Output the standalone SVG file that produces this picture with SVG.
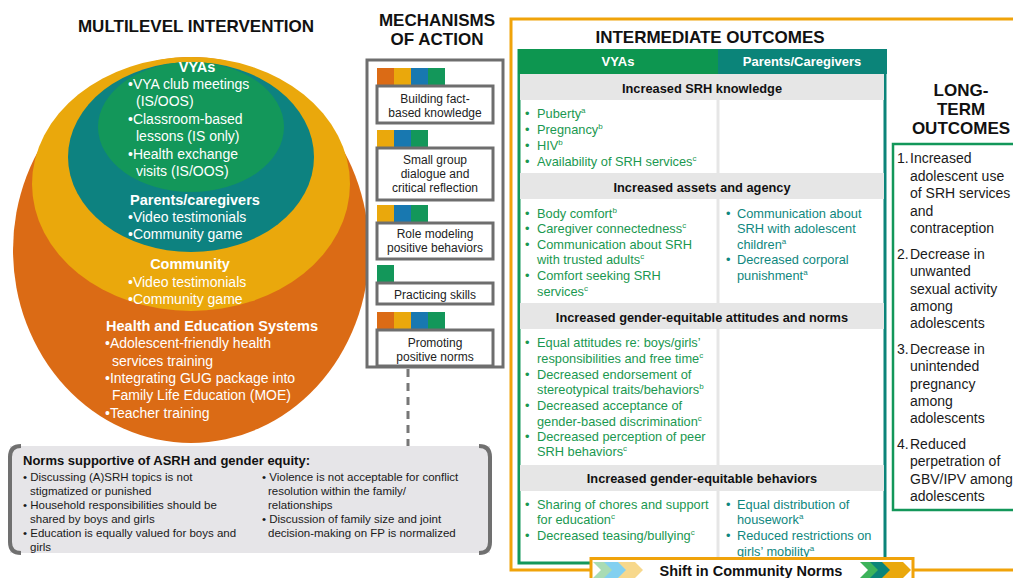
<svg xmlns="http://www.w3.org/2000/svg" width="1013" height="578" viewBox="0 0 1013 578">
<style>
text{font-family:"Liberation Sans",Arial,sans-serif}
.h{font-weight:bold;font-size:17px;fill:#111}
.cw{font-size:14px;fill:#fff}
.cwb{font-size:14.5px;font-weight:bold;fill:#fff}
.mech{font-size:12px;fill:#222;text-anchor:middle}
.mbox{fill:#fff;stroke:#6e6e6e;stroke-width:3}
.sec{font-size:12.8px;font-weight:bold;fill:#111;text-anchor:middle}
.band{fill:#e6e6e6}
.g{font-size:12.8px;fill:#1a9850}
.t{font-size:12.8px;fill:#0f877e}
.lt{font-size:14px;fill:#1a1a1a}
.nb{font-size:11.5px;fill:#1a1a1a}
.sup{font-size:8px}
.div{stroke:#e6e6e6;stroke-width:3}
</style>

<g id="multilevel">
<text class="h" x="196" y="32" text-anchor="middle">MULTILEVEL INTERVENTION</text>
<ellipse cx="191" cy="250" rx="178" ry="193" fill="#db6b15"/>
<ellipse cx="191" cy="184" rx="159" ry="127" fill="#eaa80c"/>
<ellipse cx="191" cy="157" rx="123" ry="95" fill="#0d8280"/>
<ellipse cx="191" cy="127" rx="93" ry="65" fill="#13975a"/>
<text class="cwb" x="197" y="72" text-anchor="middle">VYAs</text>
<text class="cw" x="128" y="89">•VYA club meetings</text>
<text class="cw" x="136" y="106">(IS/OOS)</text>
<text class="cw" x="128" y="124">•Classroom-based</text>
<text class="cw" x="136" y="141">lessons (IS only)</text>
<text class="cw" x="128" y="159">•Health exchange</text>
<text class="cw" x="136" y="176">visits (IS/OOS)</text>
<text class="cwb" x="195" y="205" text-anchor="middle">Parents/caregivers</text>
<text class="cw" x="128" y="222">•Video testimonials</text>
<text class="cw" x="128" y="239">•Community game</text>
<text class="cwb" x="190" y="269" text-anchor="middle">Community</text>
<text class="cw" x="128" y="287">•Video testimonials</text>
<text class="cw" x="128" y="304">•Community game</text>
<text class="cwb" x="212" y="331" text-anchor="middle">Health and Education Systems</text>
<text class="cw" x="105" y="348">•Adolescent-friendly health</text>
<text class="cw" x="112" y="366">services training</text>
<text class="cw" x="105" y="383">•Integrating GUG package into</text>
<text class="cw" x="112" y="400">Family Life Education (MOE)</text>
<text class="cw" x="105" y="418">•Teacher training</text>
</g>

<g id="connectors">
<line x1="408" y1="369" x2="408" y2="446" stroke="#777" stroke-width="3" stroke-dasharray="8,6"/>
</g>

<g id="mechanisms">
<text class="h" x="437" y="26" text-anchor="middle">MECHANISMS</text>
<text class="h" x="437" y="45" text-anchor="middle">OF ACTION</text>
<rect class="mbox" x="367" y="60" width="136" height="307"/>
<g id="mech1">
<rect x="377" y="68" width="17" height="17" fill="#db6b15"/>
<rect x="394" y="68" width="17" height="17" fill="#eaa80c"/>
<rect x="411" y="68" width="17" height="17" fill="#1878b0"/>
<rect x="428" y="68" width="17" height="17" fill="#13975a"/>
<rect class="mbox" x="377" y="86" width="116" height="37"/>
<text class="mech" x="435" y="103">Building fact-</text>
<text class="mech" x="435" y="117">based knowledge</text>
</g>
<g id="mech2">
<rect x="377" y="130" width="17" height="17" fill="#eaa80c"/>
<rect x="394" y="130" width="17" height="17" fill="#1878b0"/>
<rect x="411" y="130" width="17" height="17" fill="#13975a"/>
<rect class="mbox" x="377" y="148" width="116" height="52"/>
<text class="mech" x="435" y="164">Small group</text>
<text class="mech" x="435" y="178">dialogue and</text>
<text class="mech" x="435" y="192">critical reflection</text>
</g>
<g id="mech3">
<rect x="377" y="205" width="17" height="17" fill="#eaa80c"/>
<rect x="394" y="205" width="17" height="17" fill="#1878b0"/>
<rect x="411" y="205" width="17" height="17" fill="#13975a"/>
<rect class="mbox" x="377" y="223" width="116" height="36"/>
<text class="mech" x="435" y="238">Role modeling</text>
<text class="mech" x="435" y="252">positive behaviors</text>
</g>
<g id="mech4">
<rect x="377" y="265" width="17" height="17" fill="#13975a"/>
<rect class="mbox" x="377" y="283" width="116" height="21"/>
<text class="mech" x="435" y="299">Practicing skills</text>
</g>
<g id="mech5">
<rect x="377" y="312" width="17" height="17" fill="#db6b15"/>
<rect x="394" y="312" width="17" height="17" fill="#eaa80c"/>
<rect x="411" y="312" width="17" height="17" fill="#1878b0"/>
<rect x="428" y="312" width="17" height="17" fill="#13975a"/>
<rect class="mbox" x="377" y="330" width="116" height="36"/>
<text class="mech" x="435" y="347">Promoting</text>
<text class="mech" x="435" y="361">positive norms</text>
</g>
</g>

<g id="norms">
<rect x="10" y="446" width="480" height="107" fill="#e6e5e8"/>
<path d="M21 446 Q10 446 10 457 V542 Q10 553 21 553" fill="none" stroke="#707070" stroke-width="4"/>
<path d="M479 446 Q490 446 490 457 V542 Q490 553 479 553" fill="none" stroke="#707070" stroke-width="4"/>
<text x="23" y="465" font-size="13" font-weight="bold" fill="#111">Norms supportive of ASRH and gender equity:</text>
<text class="nb" x="23" y="481">• Discussing (A)SRH topics is not</text>
<text class="nb" x="30" y="495">stigmatized or punished</text>
<text class="nb" x="23" y="509">• Household responsibilities should be</text>
<text class="nb" x="30" y="523">shared by boys and girls</text>
<text class="nb" x="23" y="537">• Education is equally valued for boys and</text>
<text class="nb" x="30" y="551">girls</text>
<text class="nb" x="262" y="481">• Violence is not acceptable for conflict</text>
<text class="nb" x="268" y="495">resolution within the family/</text>
<text class="nb" x="268" y="509">relationships</text>
<text class="nb" x="262" y="523">• Discussion of family size and joint</text>
<text class="nb" x="268" y="537">decision-making on FP is normalized</text>
</g>

<g id="intermediate">
<path d="M1013 19 H511 V570 H592 M913 570 H1013" fill="none" stroke="#f0a30a" stroke-width="3"/>
<text class="h" x="710" y="43" text-anchor="middle">INTERMEDIATE OUTCOMES</text>
<rect x="519" y="49" width="366" height="514" fill="#fff"/>
<path d="M519 49 V563 H592" fill="none" stroke="#13975a" stroke-width="3"/>
<path d="M885 49 V560" fill="none" stroke="#0b8479" stroke-width="3"/>
<rect x="518" y="49" width="200" height="25" fill="#0d9650"/>
<rect x="718" y="49" width="169" height="25" fill="#0b8479"/>
<text x="618" y="66" font-size="13" font-weight="bold" fill="#fff" text-anchor="middle">VYAs</text>
<text x="802" y="66" font-size="13" font-weight="bold" fill="#fff" text-anchor="middle">Parents/Caregivers</text>

<rect class="band" x="520" y="74" width="364" height="26"/>
<rect class="band" x="520" y="173" width="364" height="26"/>
<rect class="band" x="520" y="303" width="364" height="26"/>
<rect class="band" x="520" y="465" width="364" height="26"/>
<line class="div" x1="718" y1="100" x2="718" y2="173"/>
<line class="div" x1="718" y1="199" x2="718" y2="303"/>
<line class="div" x1="718" y1="329" x2="718" y2="465"/>
<line class="div" x1="718" y1="491" x2="718" y2="563"/>

<text class="sec" x="702" y="93">Increased SRH knowledge</text>
<text class="sec" x="702" y="192">Increased assets and agency</text>
<text class="sec" x="702" y="322">Increased gender-equitable attitudes and norms</text>
<text class="sec" x="702" y="483">Increased gender-equitable behaviors</text>

<text class="g" x="525" y="118">•</text><text class="g" x="537" y="118">Puberty<tspan class="sup" dy="-5">a</tspan></text>
<text class="g" x="525" y="134">•</text><text class="g" x="537" y="134">Pregnancy<tspan class="sup" dy="-5">b</tspan></text>
<text class="g" x="525" y="150">•</text><text class="g" x="537" y="150">HIV<tspan class="sup" dy="-5">b</tspan></text>
<text class="g" x="525" y="166">•</text><text class="g" x="537" y="166">Availability of SRH services<tspan class="sup" dy="-5">c</tspan></text>

<text class="g" x="525" y="218">•</text><text class="g" x="537" y="218">Body comfort<tspan class="sup" dy="-5">b</tspan></text>
<text class="g" x="525" y="233">•</text><text class="g" x="537" y="233">Caregiver connectedness<tspan class="sup" dy="-5">c</tspan></text>
<text class="g" x="525" y="249">•</text><text class="g" x="537" y="249">Communication about SRH</text>
<text class="g" x="537" y="264">with trusted adults<tspan class="sup" dy="-5">c</tspan></text>
<text class="g" x="525" y="280">•</text><text class="g" x="537" y="280">Comfort seeking SRH</text>
<text class="g" x="537" y="296">services<tspan class="sup" dy="-5">c</tspan></text>

<text class="t" x="726" y="218">•</text><text class="t" x="737" y="218">Communication about</text>
<text class="t" x="737" y="233">SRH with adolescent</text>
<text class="t" x="737" y="249">children<tspan class="sup" dy="-5">a</tspan></text>
<text class="t" x="726" y="264">•</text><text class="t" x="737" y="264">Decreased corporal</text>
<text class="t" x="737" y="280">punishment<tspan class="sup" dy="-5">a</tspan></text>

<text class="g" x="525" y="347">•</text><text class="g" x="537" y="347">Equal attitudes re: boys/girls’</text>
<text class="g" x="537" y="363">responsibilities and free time<tspan class="sup" dy="-5">c</tspan></text>
<text class="g" x="525" y="379">•</text><text class="g" x="537" y="379">Decreased endorsement of</text>
<text class="g" x="537" y="394">stereotypical traits/behaviors<tspan class="sup" dy="-5">b</tspan></text>
<text class="g" x="525" y="410">•</text><text class="g" x="537" y="410">Decreased acceptance of</text>
<text class="g" x="537" y="426">gender-based discrimination<tspan class="sup" dy="-5">c</tspan></text>
<text class="g" x="525" y="441">•</text><text class="g" x="537" y="441">Decreased perception of peer</text>
<text class="g" x="537" y="456">SRH behaviors<tspan class="sup" dy="-5">c</tspan></text>

<text class="g" x="525" y="509">•</text><text class="g" x="537" y="509">Sharing of chores and support</text>
<text class="g" x="537" y="524">for education<tspan class="sup" dy="-5">c</tspan></text>
<text class="g" x="525" y="540">•</text><text class="g" x="537" y="540">Decreased teasing/bullying<tspan class="sup" dy="-5">c</tspan></text>

<text class="t" x="726" y="509">•</text><text class="t" x="737" y="509">Equal distribution of</text>
<text class="t" x="737" y="524">housework<tspan class="sup" dy="-5">a</tspan></text>
<text class="t" x="726" y="540">•</text><text class="t" x="737" y="540">Reduced restrictions on</text>
<text class="t" x="737" y="556">girls’ mobility<tspan class="sup" dy="-5">a</tspan></text>
</g>

<g id="shift">
<rect x="591" y="558.5" width="322" height="22" fill="#fff" stroke="#f0a30a" stroke-width="3"/>
<polygon points="593,562 609,562 617,570 609,578 593,578 601,570" fill="#a9dcb4"/>
<polygon points="604,562 620,562 628,570 620,578 604,578 612,570" fill="#82d0f0"/>
<polygon points="618,562 635,562 643,570 635,578 618,578 626,570" fill="#f7d88c"/>
<polygon points="860,562 877,562 885,570 877,578 860,578 868,570" fill="#3db35b"/>
<polygon points="870,562 887,562 895,570 887,578 870,578 878,570" fill="#0b8479"/>
<polygon points="882,562 903,562 911,570 903,578 882,578 890,570" fill="#eaa80c"/>
<text x="751" y="576" font-size="14.5" font-weight="bold" fill="#111" text-anchor="middle">Shift in Community Norms</text>
</g>

<g id="longterm">
<text class="h" x="961" y="96" text-anchor="middle">LONG-</text>
<text class="h" x="961" y="115" text-anchor="middle">TERM</text>
<text class="h" x="961" y="134" text-anchor="middle">OUTCOMES</text>
<rect x="893" y="144" width="130" height="366" fill="none" stroke="#13975a" stroke-width="2.5"/>
<text class="lt" x="897" y="163">1.</text><text class="lt" x="910" y="163">Increased</text>
<text class="lt" x="910" y="181">adolescent use</text>
<text class="lt" x="910" y="198">of SRH services</text>
<text class="lt" x="910" y="216">and</text>
<text class="lt" x="910" y="233">contraception</text>
<text class="lt" x="897" y="259">2.</text><text class="lt" x="910" y="259">Decrease in</text>
<text class="lt" x="910" y="276">unwanted</text>
<text class="lt" x="910" y="294">sexual activity</text>
<text class="lt" x="910" y="311">among</text>
<text class="lt" x="910" y="328">adolescents</text>
<text class="lt" x="897" y="354">3.</text><text class="lt" x="910" y="354">Decrease in</text>
<text class="lt" x="910" y="371">unintended</text>
<text class="lt" x="910" y="389">pregnancy</text>
<text class="lt" x="910" y="406">among</text>
<text class="lt" x="910" y="423">adolescents</text>
<text class="lt" x="897" y="449">4.</text><text class="lt" x="910" y="449">Reduced</text>
<text class="lt" x="910" y="466">perpetration of</text>
<text class="lt" x="910" y="484">GBV/IPV among</text>
<text class="lt" x="910" y="501">adolescents</text>
</g>
</svg>
